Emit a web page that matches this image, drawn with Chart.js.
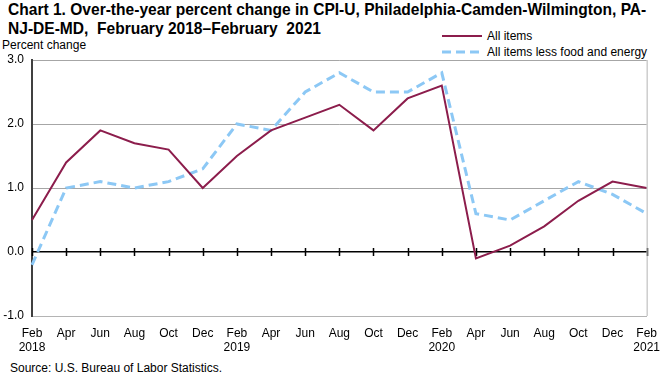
<!DOCTYPE html>
<html lang="en">
<head>
    <meta charset="UTF-8">
    <title>Chart 1. CPI-U, Philadelphia-Camden-Wilmington</title>
    <script src="https://cdn.jsdelivr.net/npm/chart.js"></script>
    <style>
        body {
            margin: 0;
            width: 670px;
            height: 373px;
            position: relative;
            background: #ffffff;
            font-family: 'Liberation Sans', Arial, sans-serif;
            color: #000;
            overflow: hidden;
        }
        #grafico {
            position: absolute;
            left: 0;
            top: 0;
        }
        .titulo {
            position: absolute;
            left: 8px;
            top: 0px;
            font-family: 'Liberation Sans', Arial, sans-serif;
            font-weight: bold;
            font-size: 17px;
            line-height: 19px;
            white-space: pre;
            transform: scaleX(0.915);
            transform-origin: left top;
        }
        .eje {
            position: absolute;
            left: 2px;
            top: 38px;
            font-size: 12px;
        }
        .fuente {
            position: absolute;
            left: 10px;
            top: 361px;
            font-size: 12px;
        }
        .leyenda {
            position: absolute;
            left: 442px;
            top: 28px;
            font-size: 12px;
        }
        .item {
            height: 16px;
            display: flex;
            align-items: center;
        }
        .muestra {
            width: 40px;
            margin-right: 5px;
        }
    </style>
</head>
<body>
    <div class="titulo">Chart 1. Over-the-year percent change in CPI-U, Philadelphia-Camden-Wilmington, PA-
NJ-DE-MD,  February 2018–February  2021</div>
    <div class="eje">Percent change</div>
    <div class="leyenda">
        <div class="item"><svg class="muestra" height="4"><line x1="0" y1="2" x2="40" y2="2" stroke="#8c1d4c" stroke-width="2"/></svg>All items</div>
        <div class="item"><svg class="muestra" height="4"><line x1="0" y1="2" x2="40" y2="2" stroke="#8cc8f5" stroke-width="3" stroke-dasharray="9 5"/></svg>All items less food and energy</div>
    </div>
    <div class="fuente">Source: U.S. Bureau of Labor Statistics.</div>

    <canvas id="grafico" width="670" height="373"></canvas>

    <script>
        const meses = [
            ["Feb", "2018"], "Apr", "Jun", "Aug", "Oct", "Dec",
            ["Feb", "2019"], "Apr", "Jun", "Aug", "Oct", "Dec",
            ["Feb", "2020"], "Apr", "Jun", "Aug", "Oct", "Dec",
            ["Feb", "2021"]
        ];

        const todos = [0.5, 1.4, 1.9, 1.7, 1.6, 1.0, 1.5, 1.9, 2.1, 2.3, 1.9, 2.4, 2.6, -0.1, 0.1, 0.4, 0.8, 1.1, 1.0];
        const subyacente = [-0.2, 1.0, 1.1, 1.0, 1.1, 1.3, 2.0, 1.9, 2.5, 2.8, 2.5, 2.5, 2.8, 0.6, 0.5, 0.8, 1.1, 0.9, 0.6];

        const marcasY = [-1, 0, 1, 2, 3];

        // Borde derecho y marcas sobre la línea del cero
        const bordes = {
            id: 'bordes',
            afterDatasetsDraw(chart) {
                const { ctx, chartArea } = chart;
                ctx.save();
                ctx.strokeStyle = '#b4b4b4';
                ctx.lineWidth = 1;
                ctx.beginPath();
                ctx.moveTo(chartArea.right + 0.5, chartArea.top);
                ctx.lineTo(chartArea.right + 0.5, chartArea.bottom);
                ctx.stroke();
                ctx.restore();
            },
            beforeDatasetsDraw(chart) {
                const { ctx, scales } = chart;
                const y0 = scales.y.getPixelForValue(0);
                ctx.save();
                ctx.strokeStyle = '#000';
                ctx.lineWidth = 1.5;
                ctx.beginPath();
                meses.forEach((m, i) => {
                    const x = Math.round(scales.x.getPixelForValue(i)) + 0.5;
                    ctx.moveTo(x, y0 - 4);
                    ctx.lineTo(x, y0 + 4);
                });
                ctx.stroke();
                ctx.restore();
            }
        };

        const grafico = new Chart(document.getElementById('grafico'), {
            type: 'line',
            data: {
                labels: meses,
                datasets: [{
                    label: 'All items',
                    data: todos,
                    borderColor: '#8c1d4c',
                    borderWidth: 2,
                    pointRadius: 0,
                    tension: 0
                }, {
                    label: 'All items less food and energy',
                    data: subyacente,
                    borderColor: '#8cc8f5',
                    borderWidth: 3,
                    borderDash: [9, 5],
                    pointRadius: 0,
                    tension: 0
                }]
            },
            options: {
                responsive: false,
                animation: false,
                layout: {
                    padding: { top: 60, right: 13, left: 0, bottom: 0 }
                },
                scales: {
                    x: {
                        offset: false,
                        grid: { display: false, drawTicks: false },
                        border: { color: '#b4b4b4', width: 1 },
                        ticks: {
                            autoSkip: false,
                            maxRotation: 0,
                            padding: 10,
                            color: '#000',
                            font: { family: 'Liberation Sans', size: 12, lineHeight: 1.2 }
                        },
                        afterFit(scale) { scale.height = 57; }
                    },
                    y: {
                        min: -1,
                        max: 3,
                        afterBuildTicks(scale) {
                            scale.ticks = marcasY.map(v => ({ value: v }));
                        },
                        grid: {
                            drawTicks: false,
                            color: ctx => ctx.tick.value === 0 ? '#000' : '#a6a6a6',
                            lineWidth: ctx => ctx.tick.value === 0 ? 1.5 : 1
                        },
                        border: { color: '#404040', width: 2 },
                        ticks: {
                            padding: 8,
                            color: '#000',
                            font: { family: 'Liberation Sans', size: 12 },
                            callback: v => v.toFixed(1)
                        },
                        afterFit(scale) { scale.width = 32; }
                    }
                },
                plugins: {
                    legend: { display: false },
                    tooltip: { enabled: false }
                }
            },
            plugins: [bordes]
        });
    </script>
</body>
</html>
